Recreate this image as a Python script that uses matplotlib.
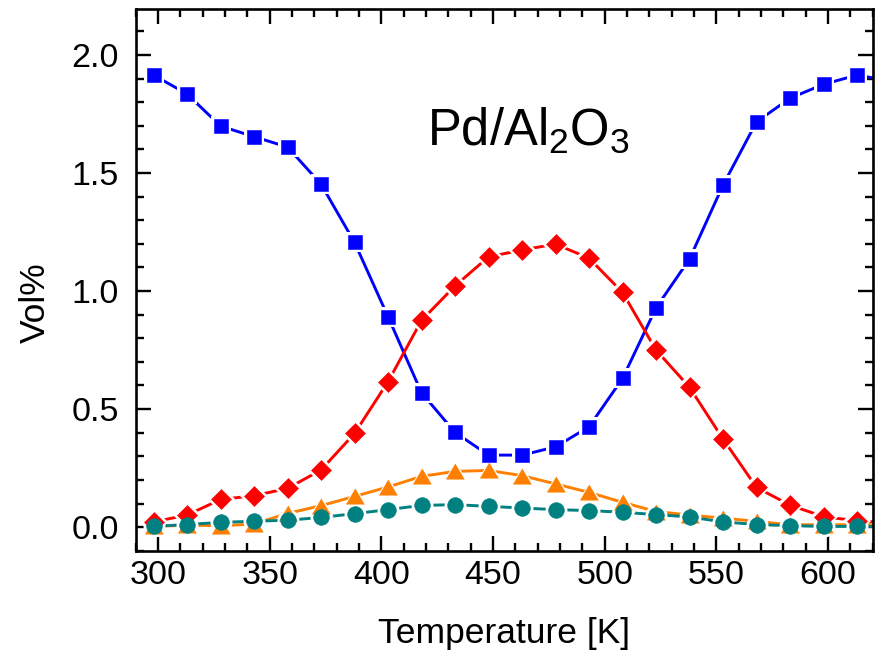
import matplotlib
matplotlib.use("Agg")
import matplotlib.pyplot as plt
from matplotlib.ticker import MultipleLocator, FormatStrFormatter

plt.rcParams['font.family'] = ['Liberation Sans', 'DejaVu Sans']
plt.rcParams['mathtext.fontset'] = 'custom'
plt.rcParams['mathtext.rm'] = 'Liberation Sans'
plt.rcParams['mathtext.it'] = 'Liberation Sans:italic'

# ---- data ----
temperature = [298, 313, 328, 343, 358, 373, 388, 403, 418, 433, 448, 463,
               478, 493, 508, 523, 538, 553, 568, 583, 598, 613, 628]
blue_vals = [1.915, 1.835, 1.699, 1.654, 1.610, 1.453, 1.206, 0.891, 0.569,
             0.401, 0.305, 0.305, 0.340, 0.425, 0.630, 0.929, 1.136, 1.449,
             1.717, 1.817, 1.876, 1.915, 1.89]
red_vals = [0.022, 0.051, 0.117, 0.133, 0.164, 0.242, 0.397, 0.616, 0.876,
            1.022, 1.145, 1.174, 1.199, 1.139, 0.994, 0.750, 0.592, 0.373,
            0.168, 0.093, 0.044, 0.027, 0.018]
orange_vals = [0.003, 0.008, 0.006, 0.013, 0.058, 0.091, 0.130, 0.170, 0.215,
               0.236, 0.240, 0.218, 0.183, 0.147, 0.105, 0.066, 0.051, 0.038,
               0.024, 0.010, 0.010, 0.010, 0.010]
teal_vals = [0.003, 0.011, 0.020, 0.025, 0.029, 0.041, 0.057, 0.074, 0.092,
             0.095, 0.088, 0.081, 0.074, 0.070, 0.063, 0.053, 0.043, 0.022,
             0.011, 0.006, 0.003, 0.003, 0.003]

x_label = 'Temperature [K]'
y_label = 'Vol%'
annotation = r'Pd/Al$\mathregular{_2}$O$\mathregular{_3}$'

tri = [(0, 0.85), (-1, -0.85), (1, -0.85)]
series = [
    (blue_vals, '#0000FF', 's', 9.4),
    (red_vals, '#FF0000', 'D', 10.0),
    (orange_vals, '#FF8000', tri, 13.0),
    (teal_vals, '#008080', 'o', 11.3),
]

fig = plt.figure(figsize=(8.77, 6.56), dpi=100)
ax = fig.add_axes([0.1547, 0.1605, 0.8404, 0.8258])

for k, (vals, color, marker, ms) in enumerate(series):
    ax.plot(temperature, vals, '-', color=color, lw=2.1, zorder=2)
    ax.plot(temperature, vals, ls='none', marker=marker, ms=ms + 4.5,
            mfc='white', mec='white', mew=0, zorder=3)
    ax.plot(temperature, vals, ls='none', marker=marker, ms=ms,
            mfc=color, mec=color, mew=0.4, zorder=4 + k)

ax.set_xlim(290, 620)
ax.set_ylim(-0.1, 2.195)

ax.xaxis.set_major_locator(MultipleLocator(50))
ax.xaxis.set_minor_locator(MultipleLocator(10))
ax.yaxis.set_major_locator(MultipleLocator(0.5))
ax.yaxis.set_minor_locator(MultipleLocator(0.1))
ax.yaxis.set_major_formatter(FormatStrFormatter('%.1f'))

ax.tick_params(which='both', direction='in', top=True, right=True,
               width=1.7, colors='black')
ax.tick_params(which='major', length=10.5, labelsize=24.5)
ax.tick_params(which='minor', length=6)
ax.tick_params(axis='x', pad=7)
ax.tick_params(axis='y', pad=12)
for s in ax.spines.values():
    s.set_linewidth(1.9)

ax.set_xlabel(x_label, fontsize=25.5)
ax.set_ylabel(y_label, fontsize=25.5)
ax.yaxis.set_label_coords(-0.1136, 0.458)
ax.xaxis.set_label_coords(0.5, -0.122)

ax.text(466, 1.62, annotation, fontsize=36.5, ha='center', va='baseline')

fig.savefig('out.png', dpi=100)
